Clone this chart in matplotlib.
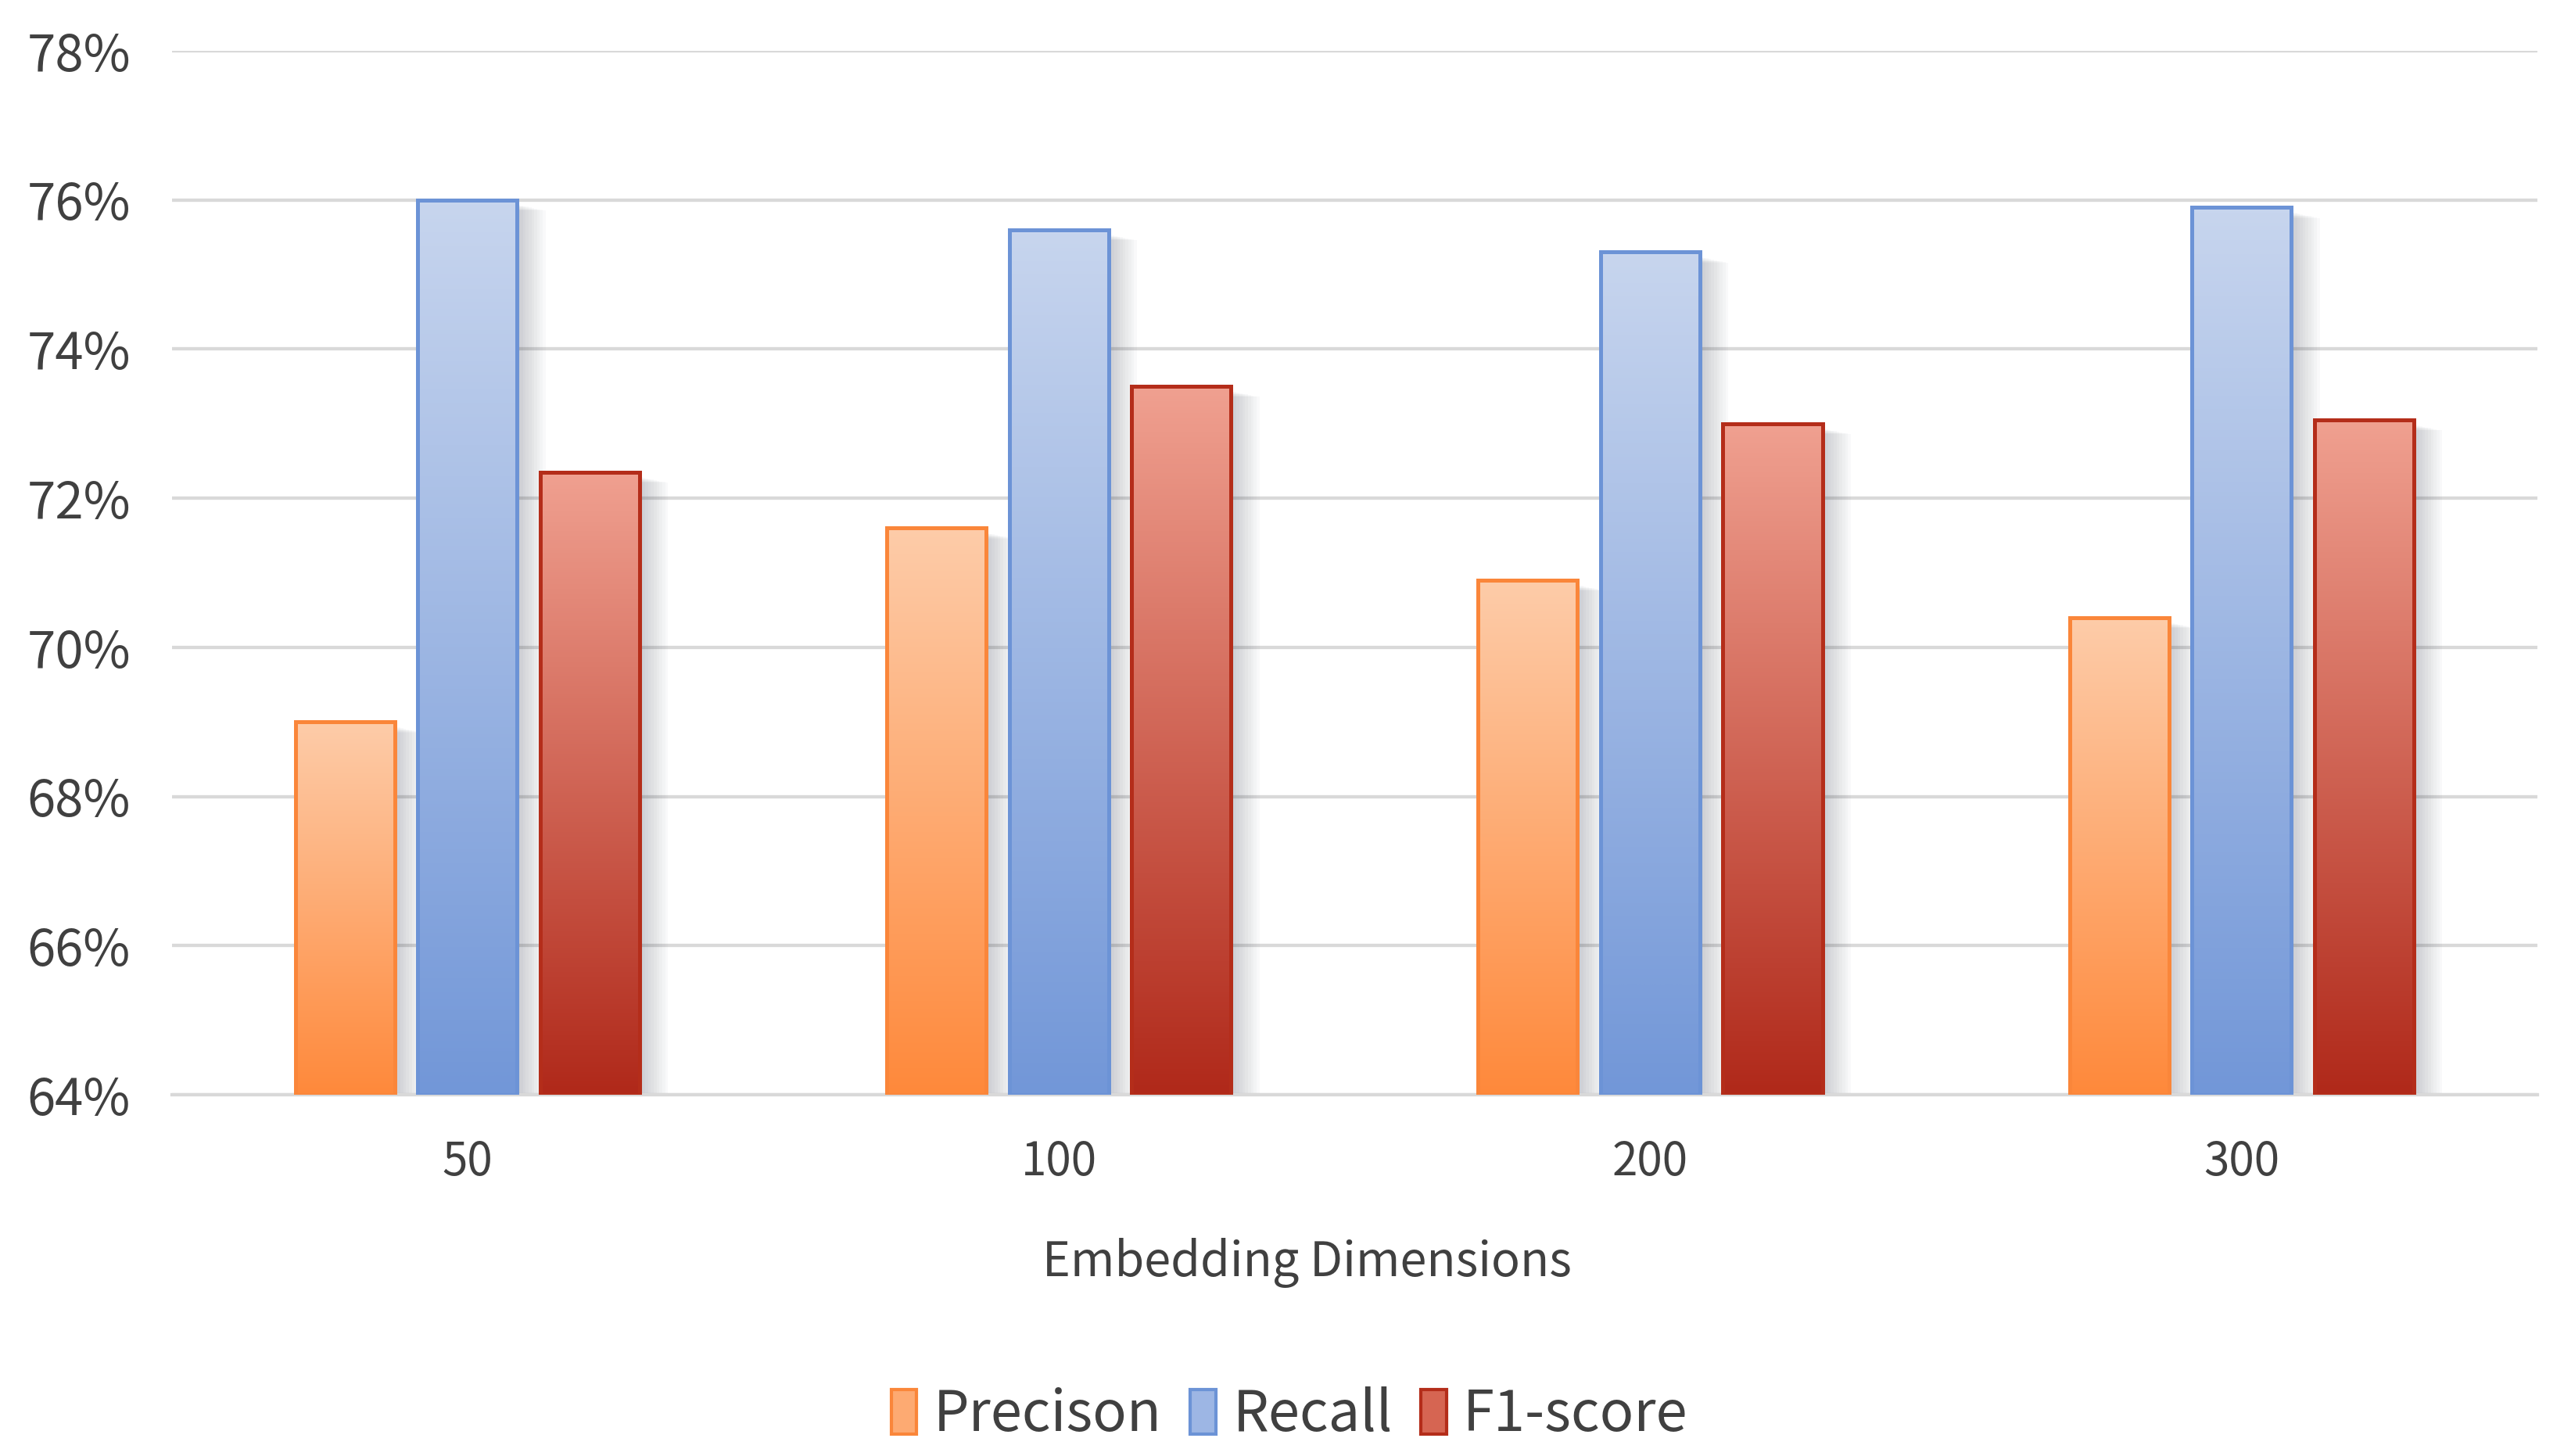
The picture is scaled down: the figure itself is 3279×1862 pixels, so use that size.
import numpy as np
import matplotlib
matplotlib.use('Agg')
import matplotlib.pyplot as plt
from matplotlib.colors import LinearSegmentedColormap
from matplotlib.patches import Patch, Rectangle

plt.rcParams['font.family'] = ['Noto Sans CJK SC', 'DejaVu Sans']

# 数据
dims = ['50', '100', '200', '300']
precision = [69.0, 71.6, 70.9, 70.4]
recall = [76.0, 75.6, 75.3, 75.9]
f1 = [72.35, 73.5, 73.0, 73.05]
series_names = ['Precison', 'Recall', 'F1-score']
yticks = [64, 66, 68, 70, 72, 74, 76, 78]

# 渐变色 (顶部浅, 底部深) 与边框
tops = ['#FDCCA9', '#C7D5EE', '#F0A090']
bottoms = ['#FF893B', '#7297D8', '#B0291A']
edges = ['#FA863A', '#6C93D6', '#B42D1A']
mids = ['#FDAA72', '#9DB6E4', '#D66552']

fig = plt.figure(figsize=(32.79, 18.62), dpi=100)
ax = fig.add_axes([0.067, 0.2481, 0.9226, 0.717])

x = np.arange(len(dims))
width = 0.168
offsets = [-0.207, 0.0, 0.207]
ymin, ymax = 64, 78

for s, vals in enumerate([precision, recall, f1]):
    bars = ax.bar(x + offsets[s], np.array(vals) - ymin, width, bottom=ymin,
                  facecolor='none', edgecolor=edges[s], linewidth=3.6, zorder=4)
    cmap = LinearSegmentedColormap.from_list('g%d' % s, [bottoms[s], tops[s]])
    grad = np.linspace(0, 1, 256).reshape(-1, 1)
    for b in bars:
        x0, w, h = b.get_x(), b.get_width(), b.get_height()
        ax.imshow(grad, extent=[x0, x0 + w, ymin, ymin + h], origin='lower',
                  aspect='auto', cmap=cmap, zorder=3, interpolation='bicubic')
        # 柔和阴影
        for k in range(1, 11):
            ax.add_patch(Rectangle((x0 + k * 0.0048, ymin), w, h - 0.06 - k * 0.008,
                                   facecolor='#202840', edgecolor='none',
                                   alpha=0.022, zorder=2))

ax.set_xlim(-0.5, 3.5)
ax.set_ylim(ymin, ymax)
ax.set_yticks(yticks)
ax.set_yticklabels(['%d%%' % t for t in yticks])
ax.set_xticks(x)
ax.set_xticklabels(dims)
ax.yaxis.grid(True, color='#D9D9D9', linewidth=3.1, zorder=1)
ax.set_axisbelow(True)
for sp in ['top', 'right', 'left']:
    ax.spines[sp].set_visible(False)
ax.spines['bottom'].set_color('#D9D9D9')
ax.spines['bottom'].set_linewidth(3.1)
ax.tick_params(axis='both', length=0, colors='#404040')
ax.tick_params(axis='y', labelsize=47, pad=38)
ax.tick_params(axis='x', labelsize=42, pad=40)
ax.set_xlabel('Embedding Dimensions', fontsize=44, color='#404040')
ax.xaxis.set_label_coords(0.48, -0.137)

handles = [Patch(facecolor=mids[i], edgecolor=edges[i], linewidth=3) for i in range(3)]
fig.legend(handles, series_names, loc='center', bbox_to_anchor=(0.503, 0.028),
           ncol=3, frameon=False, fontsize=52, handlelength=0.45, handleheight=0.85,
           handletextpad=0.3, columnspacing=0.5, labelcolor='#404040')

fig.savefig('out.png', dpi=100, facecolor='white')
